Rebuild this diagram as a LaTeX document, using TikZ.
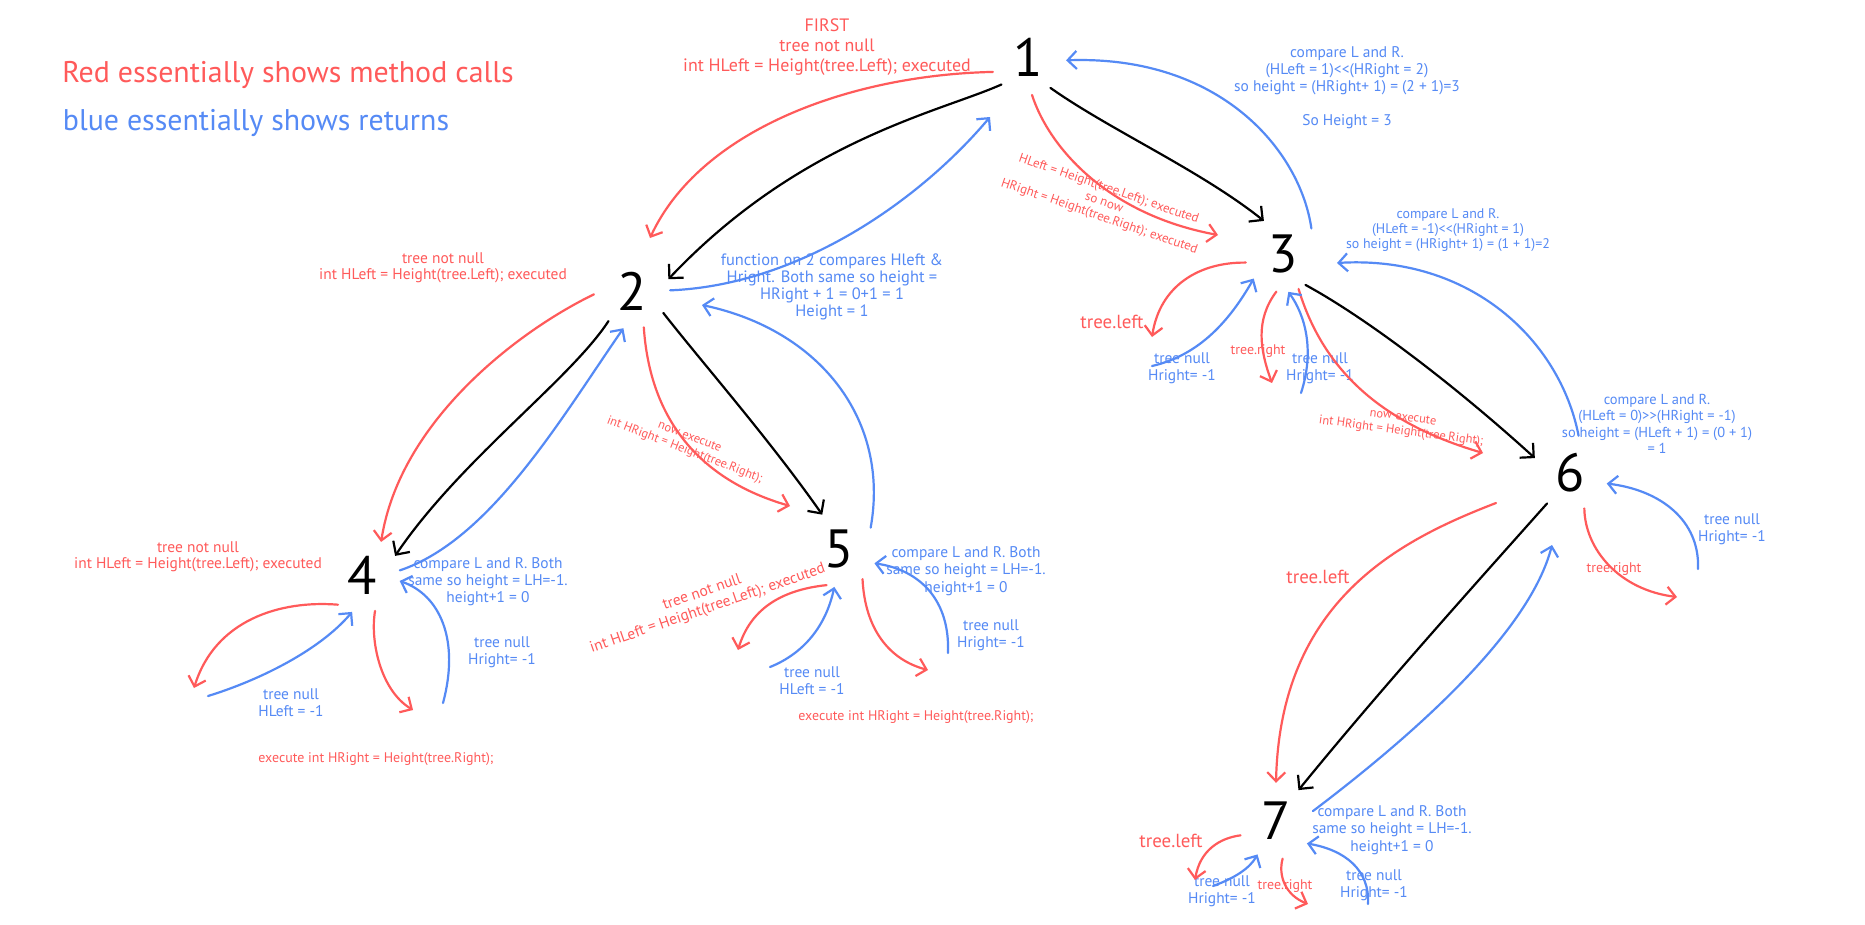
\documentclass[tikz,border=0pt]{standalone}
\usepackage{fontspec}
\setmainfont{PT Sans}
\usetikzlibrary{arrows.meta}
\definecolor{callred}{RGB}{255,90,90}
\definecolor{retblue}{RGB}{85,138,245}
\newcommand\fsz[2]{\fontsize{#1}{#2}\selectfont}

\begin{document}
\begin{tikzpicture}[x=1bp,y=-1bp,line cap=round,line join=round,
  digit/.style={circle,minimum size=76bp,inner sep=0pt,font=\fsz{54}{54}},
  calltext/.style={text=callred,align=center,inner sep=0pt},
  rettext/.style={text=retblue,align=center,inner sep=0pt},
  treearrow/.style={draw=black,line width=2.2bp,-{Straight Barb[length=10bp,width=20bp]}},
  callarrow/.style={draw=callred,line width=2.2bp,-{Straight Barb[length=9bp,width=18bp]}},
  retarrow/.style={draw=retblue,line width=2.2bp,-{Straight Barb[length=9bp,width=18bp]}},
]
\useasboundingbox (0,0) rectangle (1865,925);
\fill[white] (0,0) rectangle (1865,925);
%%
\node (n1) at (1028,57) [digit] {1};
\node (n2) at (632,291) [digit] {2};
\node (n3) at (1283,254) [digit] {3};
\node (n4) at (362,575) [digit] {4};
\node (n5) at (839,549) [digit] {5};
\node (n6) at (1570,473) [digit] {6};
\node (n7) at (1276,821) [digit] {7};
%% legend
\node (legcall) at (288,75) [calltext,font=\fsz{30}{33}] {Red essentially shows method calls};
\node (legret) at (256,123) [rettext,font=\fsz{30}{33}] {blue essentially shows returns};
%% labels
\node (txfirst) at (827,47) [calltext,font=\fsz{18}{20}] {FIRST\\tree not null\\int HLeft = Height(tree.Left); executed};
\node (txret1) at (1347,88) [rettext,font=\fsz{15.5}{17}] {compare L and R.\\(HLeft = 1)<{}<(HRight = 2)\\so height = (HRight+ 1) = (2 + 1)=3\\[17bp]So Height = 3};
\node (txcall13) at (1104,203) [calltext,font=\fsz{13}{14.5},rotate=-19] {HLeft = Height(tree.Left); executed\\so now\\HRight = Height(tree.Right); executed};
\node (txret3) at (1448,230) [rettext,font=\fsz{14}{15}] {compare L and R.\\(HLeft = -1)<{}<(HRight = 1)\\so height = (HRight+ 1) = (1 + 1)=2};
\node (txcall2) at (443,268) [calltext,font=\fsz{15.5}{16}] {tree not null\\int HLeft = Height(tree.Left); executed};
\node (txret2) at (832,287) [rettext,font=\fsz{16.5}{17}] {function on 2 compares Hleft \&\\Hright. Both same so height =\\HRight + 1 = 0+1 = 1\\Height = 1};
\node (tx3left) at (1112,322) [calltext,font=\fsz{19}{20}] {tree.left};
\node (tx3null1) at (1182,368) [rettext,font=\fsz{15.5}{17}] {tree null\\Hright= -1};
\node (tx3right) at (1258,351) [calltext,font=\fsz{14}{15}] {tree.right};
\node (tx3null2) at (1320,368) [rettext,font=\fsz{15.5}{17}] {tree null\\Hright= -1};
\node (txcall36) at (1402,425) [calltext,font=\fsz{12.5}{14},rotate=-7.5] {now execute\\int HRight = Height(tree.Right);};
\node (txret6) at (1657,424) [rettext,font=\fsz{14.5}{16.5}] {compare L and R.\\(HLeft = 0)>{}>(HRight = -1)\\so height = (HLeft + 1) = (0 + 1)\\= 1};
\node (txcall25) at (687,444) [calltext,font=\fsz{12.5}{14},rotate=-21] {now execute\\int HRight = Height(tree.Right);};
\node (txcall4) at (198,557) [calltext,font=\fsz{15.5}{16}] {tree not null\\int HLeft = Height(tree.Left); executed};
\node (txret4) at (488,582) [rettext,font=\fsz{15.5}{17}] {compare L and R. Both\\same so height = LH=-1.\\height+1 = 0};
\node (tx4null2) at (502,652) [rettext,font=\fsz{15.5}{17}] {tree null\\Hright= -1};
\node (tx4null1) at (291,703) [rettext,font=\fsz{15.5}{17}] {tree null\\HLeft = -1};
\node (txexec4) at (376,759) [calltext,font=\fsz{14}{15}] {execute int HRight = Height(tree.Right);};
\node (txcall5) at (705,601) [calltext,font=\fsz{15.5}{17},rotate=19] {tree not null\\int HLeft = Height(tree.Left); executed};
\node (tx5null1) at (812,681) [rettext,font=\fsz{15.5}{17}] {tree null\\HLeft = -1};
\node (txexec5) at (916,717) [calltext,font=\fsz{14}{15}] {execute int HRight = Height(tree.Right);};
\node (txret5) at (966,571) [rettext,font=\fsz{15.5}{17.5}] {compare L and R. Both\\same so height = LH=-1.\\height+1 = 0};
\node (tx5null2) at (991,635) [rettext,font=\fsz{15.5}{17}] {tree null\\Hright= -1};
\node (tx6null) at (1732,529) [rettext,font=\fsz{15.5}{17}] {tree null\\Hright= -1};
\node (tx6right) at (1614,569) [calltext,font=\fsz{14}{15}] {tree.right};
\node (tx6left) at (1318,577) [calltext,font=\fsz{19}{20}] {tree.left};
\node (txret7) at (1392,830) [rettext,font=\fsz{15.5}{17.5}] {compare L and R. Both\\same so height = LH=-1.\\height+1 = 0};
\node (tx7left) at (1171,841) [calltext,font=\fsz{19}{20}] {tree.left};
\node (tx7null1) at (1222,891) [rettext,font=\fsz{15.5}{17}] {tree null\\Hright= -1};
\node (tx7right) at (1285,886) [calltext,font=\fsz{14}{15}] {tree.right};
\node (tx7null2) at (1374,885) [rettext,font=\fsz{15.5}{17}] {tree null\\Hright= -1};
%% free ends
\coordinate (r12tip) at (650,238);
\coordinate (r13tip) at (1218,235);
\coordinate (r25tip) at (790,506);
\coordinate (r3ltip) at (1152,337);
\coordinate (r3rtip) at (1272,383);
\coordinate (r36tip) at (1483,453);
\coordinate (r4ltip) at (194,688);
\coordinate (r4rtip) at (413,710);
\coordinate (r5ltip) at (738,650);
\coordinate (r5rtip) at (928,670);
\coordinate (r67start) at (1496,503);
\coordinate (r6rtip) at (1677,597);
\coordinate (r7ltip) at (1195,880);
\coordinate (r7rtip) at (1308,904);
\coordinate (b21tip) at (990,117);
\coordinate (b52tip) at (702,305);
\coordinate (b63tip) at (1337,263);
\coordinate (b3lstart) at (1152,366);
\coordinate (b3rstart) at (1301,393);
\coordinate (b4lstart) at (208,696);
\coordinate (b4rstart) at (443,703);
\coordinate (b5lstart) at (770,667);
\coordinate (b5rstart) at (948,653);
\coordinate (b76tip) at (1552,545);
\coordinate (b6rstart) at (1698,569);
\coordinate (b7lstart) at (1213,886);
\coordinate (b7rstart) at (1368,904);
%% tree edges
\draw [treearrow] (n1.226) ..controls (940,112) and (800,140) .. (n2.18);
\draw [treearrow] (n1.306) ..controls (1110,130) and (1200,170) .. (n3.120);
\draw [treearrow] (n2.232) ..controls (570,380) and (460,460) .. (n4.30);
\draw [treearrow] (n2.325) ..controls (700,360) and (770,440) .. (n5.116);
\draw [treearrow] (n3.306) ..controls (1370,320) and (1460,390) .. (n6.157);
\draw [treearrow] (n6.233) ..controls (1470,590) and (1380,690) .. (n7.54);
%% calls
\draw [callarrow] (n1.203) ..controls (850,75) and (700,130) .. (r12tip);
\draw [callarrow] (n1.276) ..controls (1050,150) and (1110,215) .. (r13tip);
\draw [callarrow] (n2.185) ..controls (520,330) and (400,420) .. (n4.60);
\draw [callarrow] (n2.288) ..controls (650,420) and (700,480) .. (r25tip);
\draw [callarrow] (n3.193) ..controls (1200,262) and (1160,285) .. (r3ltip);
\draw [callarrow] (n3.260) ..controls (1255,320) and (1260,350) .. (r3rtip);
\draw [callarrow] (n3.294) ..controls (1320,360) and (1370,420) .. (r36tip);
\draw [callarrow] (n4.231) ..controls (280,600) and (215,620) .. (r4ltip);
\draw [callarrow] (n4.290) ..controls (370,640) and (380,690) .. (r4rtip);
\draw [callarrow] (n5.251) ..controls (780,590) and (750,610) .. (r5ltip);
\draw [callarrow] (n5.308) ..controls (865,630) and (890,660) .. (r5rtip);
\draw [callarrow] (r67start) ..controls (1400,540) and (1280,600) .. (n7.90);
\draw [callarrow] (n6.292) ..controls (1585,550) and (1620,590) .. (r6rtip);
\draw [callarrow] (n7.202) ..controls (1220,838) and (1200,850) .. (r7ltip);
\draw [callarrow] (n7.280) ..controls (1278,875) and (1285,895) .. (r7rtip);
%% returns
\draw [retarrow] (n2.1) ..controls (800,285) and (920,200) .. (b21tip);
\draw [retarrow] (n3.42) ..controls (1300,150) and (1220,55) .. (n1.355);
\draw [retarrow] (n5.34) ..controls (890,420) and (820,330) .. (b52tip);
\draw [retarrow] (n4.7) ..controls (490,540) and (560,420) .. (n2.257);
\draw [retarrow] (n6.77) ..controls (1560,340) and (1470,255) .. (b63tip);
\draw [retarrow] (b3lstart) ..controls (1200,355) and (1230,320) .. (n3.220);
\draw [retarrow] (b3rstart) ..controls (1315,350) and (1305,315) .. (n3.278);
\draw [retarrow] (b4lstart) ..controls (260,680) and (320,650) .. (n4.255);
\draw [retarrow] (b4rstart) ..controls (460,640) and (440,595) .. (n4.351);
\draw [retarrow] (b5lstart) ..controls (800,655) and (825,630) .. (n5.263);
\draw [retarrow] (b5rstart) ..controls (950,600) and (920,570) .. (n5.338);
\draw [retarrow] (n7.15) ..controls (1420,730) and (1530,630) .. (b76tip);
\draw [retarrow] (b6rstart) ..controls (1700,520) and (1660,490) .. (n6.344);
\draw [retarrow] (b7lstart) ..controls (1235,878) and (1250,868) .. (n7.241);
\draw [retarrow] (b7rstart) ..controls (1370,870) and (1345,850) .. (n7.324);
%
\end{tikzpicture}
\end{document}
